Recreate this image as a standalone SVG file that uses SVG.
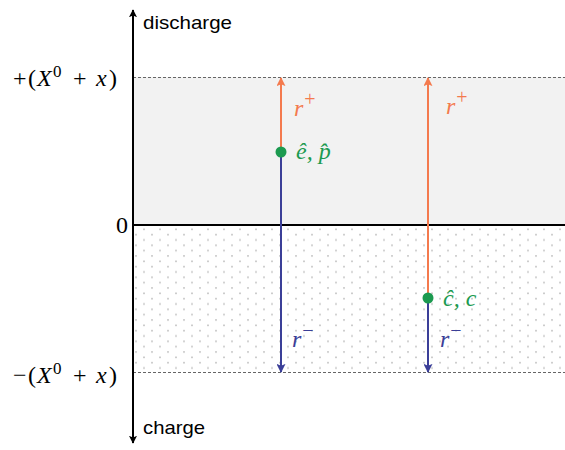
<svg xmlns="http://www.w3.org/2000/svg" width="565" height="450" viewBox="0 0 565 450">
  <defs>
    <pattern id="dots" x="140" y="227" width="16" height="10.67" patternUnits="userSpaceOnUse">
      <rect x="3.2" y="1.5" width="1.6" height="1.6" fill="#bdbdbd"/>
      <rect x="11.2" y="6.8" width="1.6" height="1.6" fill="#bdbdbd"/>
    </pattern>
    <marker id="ah-black" viewBox="0 0 10 10" refX="9" refY="5" markerWidth="4" markerHeight="4" orient="auto" markerUnits="strokeWidth">
      <path d="M0,0 L10,5 L0,10 L2,5 Z" fill="#000"/>
    </marker>
    <marker id="ah-orange" viewBox="0 0 10 10" refX="9" refY="5" markerWidth="4.5" markerHeight="4.5" orient="auto" markerUnits="strokeWidth">
      <path d="M0,0 L10,5 L0,10 L2,5 Z" fill="#f47a4e"/>
    </marker>
    <marker id="ah-blue" viewBox="0 0 10 10" refX="9" refY="5" markerWidth="4.5" markerHeight="4.5" orient="auto" markerUnits="strokeWidth">
      <path d="M0,0 L10,5 L0,10 L2,5 Z" fill="#3b3f98"/>
    </marker>
  </defs>
  <style>
    .lbl { font-family: "Liberation Sans", Arial, sans-serif; font-size: 19px; fill: #000; }
    .math { font-family: "Liberation Serif", "DejaVu Serif", serif; font-size: 24px; fill: #000; }
    .it { font-style: italic; }
    .sup { font-size: 17px; font-style: normal; }
    .sop { font-size: 20px; font-style: normal; }
    .dash { stroke: #666; stroke-width: 1; stroke-dasharray: 3 2; fill: none; }
    .up { stroke: #f47a4e; stroke-width: 2; fill: none; marker-end: url(#ah-orange); }
    .down { stroke: #3b3f98; stroke-width: 2; fill: none; marker-end: url(#ah-blue); }
    .dot { fill: #1c9a50; }
    .tor { fill: #f47a4e; }
    .tbl { fill: #3b3f98; }
    .tgr { fill: #1c9a50; }
  </style>

  <g id="regions">
    <rect x="133" y="77" width="432" height="148" fill="#f2f2f2"/>
    <rect x="133" y="225" width="432" height="147" fill="url(#dots)"/>
    <line class="dash" x1="133" y1="77.5" x2="565" y2="77.5"/>
    <line class="dash" x1="133" y1="372.5" x2="565" y2="372.5"/>
    <line x1="133" y1="225" x2="565" y2="225" stroke="#000" stroke-width="2"/>
  </g>

  <g id="axis">
    <line x1="133" y1="225" x2="133" y2="10" stroke="#000" stroke-width="2" marker-end="url(#ah-black)"/>
    <line x1="133" y1="225" x2="133" y2="443" stroke="#000" stroke-width="2" marker-end="url(#ah-black)"/>
    <text class="lbl" x="143" y="29" textLength="89" lengthAdjust="spacingAndGlyphs">discharge</text>
    <text class="lbl" x="143" y="434" textLength="62" lengthAdjust="spacingAndGlyphs">charge</text>
    <text class="math" y="86"><tspan x="13">+</tspan><tspan x="28">(</tspan><tspan x="37" class="it">X</tspan><tspan x="53" dy="-9" class="sup">0</tspan><tspan x="73" dy="9">+</tspan><tspan x="96" class="it">x</tspan><tspan x="109">)</tspan></text>
    <text class="math" x="116" y="233">0</text>
    <text class="math" y="383"><tspan x="13">−</tspan><tspan x="28">(</tspan><tspan x="37" class="it">X</tspan><tspan x="53" dy="-9" class="sup">0</tspan><tspan x="73" dy="9">+</tspan><tspan x="96" class="it">x</tspan><tspan x="109">)</tspan></text>
  </g>

  <g id="connectors">
    <line class="up" x1="281" y1="152" x2="281" y2="78"/>
    <line class="down" x1="281" y1="152" x2="281" y2="372"/>
    <line class="up" x1="428" y1="298" x2="428" y2="78"/>
    <line class="down" x1="428" y1="298" x2="428" y2="372"/>
  </g>

  <g id="node-ep">
    <circle class="dot" cx="281" cy="152" r="5.5"/>
    <text class="math it tgr" x="296" y="159">ê, p̂</text>
  </g>
  <g id="node-cc">
    <circle class="dot" cx="428" cy="298" r="5.5"/>
    <text class="math it tgr" x="443" y="306">ĉ, c</text>
  </g>
  <g id="label-rplus-1">
    <text class="math it tor" x="294" y="116">r<tspan class="sop" dx="1" dy="-10">+</tspan></text>
  </g>
  <g id="label-rplus-2">
    <text class="math it tor" x="446" y="114">r<tspan class="sop" dx="1" dy="-10">+</tspan></text>
  </g>
  <g id="label-rminus-1">
    <text class="math it tbl" x="292" y="347">r<tspan class="sop" dx="1" dy="-10">−</tspan></text>
  </g>
  <g id="label-rminus-2">
    <text class="math it tbl" x="440" y="347">r<tspan class="sop" dx="1" dy="-10">−</tspan></text>
  </g>
</svg>
